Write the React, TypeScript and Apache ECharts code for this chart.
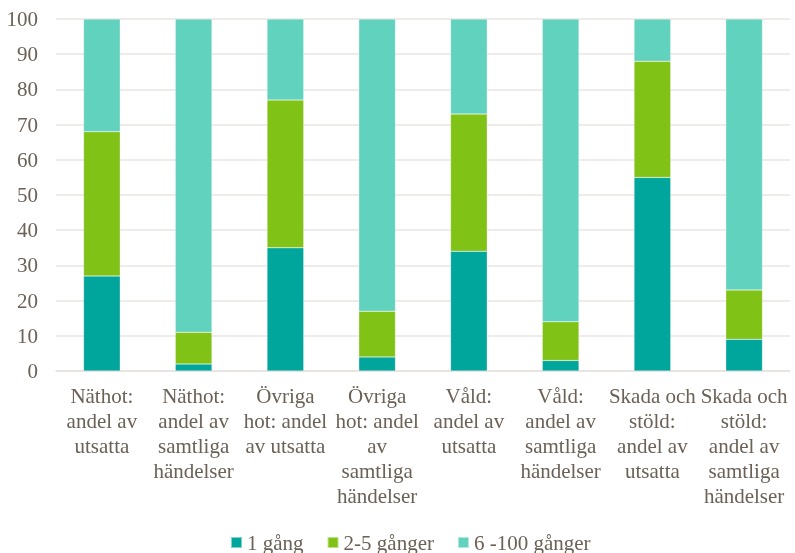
import React, { useEffect, useRef } from "react";
import * as echarts from "echarts";

const categories = [
  "Näthot:\nandel av\nutsatta",
  "Näthot:\nandel av\nsamtliga\nhändelser",
  "Övriga\nhot: andel\nav utsatta",
  "Övriga\nhot: andel\nav\nsamtliga\nhändelser",
  "Våld:\nandel av\nutsatta",
  "Våld:\nandel av\nsamtliga\nhändelser",
  "Skada och\nstöld:\nandel av\nutsatta",
  "Skada och\nstöld:\nandel av\nsamtliga\nhändelser",
];
const seriesNames = ["1 gång", "2-5 gånger", "6 -100 gånger"];
const once = [27, 2, 35, 4, 34, 3, 55, 9];
const twoToFive = [41, 9, 42, 13, 39, 11, 33, 14];
const sixToHundred = [32, 89, 23, 83, 27, 86, 12, 77];

const colors = ["#00A59B", "#80C216", "#61D2BD"];
const textColor = "#6B6156";
const font = "Liberation Serif";

export default function App() {
  const ref = useRef<HTMLDivElement>(null);
  useEffect(() => {
    if (!ref.current) return;
    const chart = echarts.init(ref.current, null, { renderer: "svg" });
    const values = [once, twoToFive, sixToHundred];
    chart.setOption({
      animation: false,
      legend: {
        bottom: 0,
        left: 225,
        padding: [0, 5, 0, 5],
        itemWidth: 11,
        itemHeight: 11,
        itemGap: 23,
        icon: "rect",
        textStyle: { fontFamily: font, fontSize: 21, color: textColor },
        data: seriesNames,
      },
      grid: { left: 56, right: 5, top: 19, bottom: 182, containLabel: false },
      xAxis: {
        type: "category",
        data: categories,
        axisLine: { show: true, lineStyle: { color: "#E6E2DF", width: 1.5 } },
        axisTick: { show: false },
        axisLabel: {
          interval: 0,
          fontFamily: font,
          fontSize: 21,
          color: textColor,
          lineHeight: 25,
          margin: 12,
        },
      },
      yAxis: {
        type: "value",
        min: 0,
        max: 100,
        interval: 10,
        axisLine: { show: false },
        axisTick: { show: false },
        splitLine: { lineStyle: { color: "#E9E5E2", width: 1.5 } },
        axisLabel: { fontFamily: font, fontSize: 21, color: textColor, margin: 18 },
      },
      series: seriesNames.map((name, i) => ({
        name,
        type: "bar",
        stack: "total",
        barWidth: "40%",
        data: values[i],
        itemStyle: { color: colors[i], borderColor: "rgba(255,255,255,0.5)", borderWidth: 0.5 },
      })),
    });
    return () => chart.dispose();
  }, []);
  return (
    <div
      ref={ref}
      style={{ position: "fixed", left: 0, top: 0, width: 795, height: 553 }}
    />
  );
}
